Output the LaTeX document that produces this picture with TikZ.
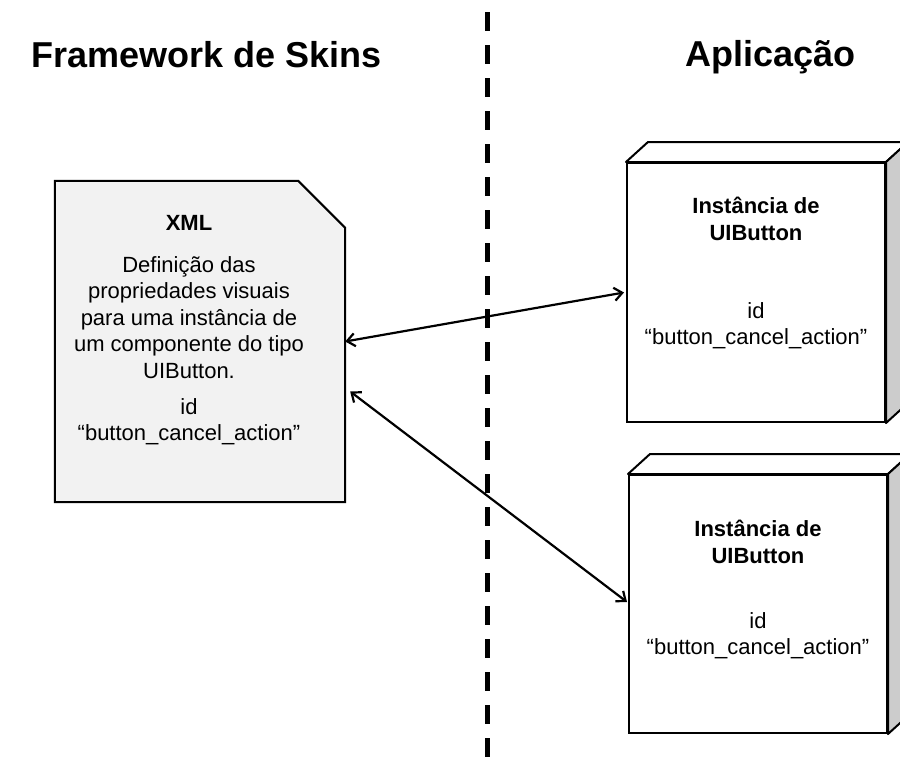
\documentclass[tikz,border=0pt]{standalone}
\usepackage{fontspec}
\setmainfont{Liberation Sans}
\usetikzlibrary{arrows.meta,calc}
\definecolor{docgray}{HTML}{F2F2F2}
\definecolor{sidegray}{HTML}{CCCCCC}
\tikzset{
  heading/.style={anchor=base,font=\fontsize{36}{43}\selectfont\bfseries},
  bodytext/.style={align=center,inner sep=0pt,anchor=north,font=\fontsize{22}{26.5}\selectfont},
  facebox/.style={draw,line width=2pt,fill=white,minimum width=258pt,inner sep=0pt},
  link/.style={line width=2.2pt,{Straight Barb[length=8pt,width=13pt]}-{Straight Barb[length=8pt,width=13pt]}}
}

\begin{document}
\begin{tikzpicture}[x=1pt,y=-1pt]
  \useasboundingbox (0,0) rectangle (900,763);
  % the two sides
  \node[heading] (T-1) at (206.5,67) {Framework de Skins};
  \node[heading] (T-2) at (770.5,66) {Aplicação};
  \draw[line width=5pt,dash pattern=on 19pt off 14pt] (487,12) -- (487,763);

  % XML document with folded corner
  \node[minimum width=290pt,minimum height=321pt,inner sep=0pt] (xml) at (200,341.5) {};
  \draw[line width=2pt,fill=docgray,line join=miter]
    (xml.north west) -- ([xshift=-47pt]xml.north east) -- ([yshift=-47pt]xml.north east)
    -- (xml.south east) -- (xml.south west) -- cycle;
  \node[bodytext] (xml-txt) at (189,215) {\textbf{XML}\\[15.5pt]
    Definição das\\ propriedades visuais\\ para uma instância de\\
    um componente do tipo\\ UIButton.\\[9.5pt]
    id\\ “button\_cancel\_action”};

  % the two instances as cubes
  \foreach \number/\cx/\cy/\h/\ty/\gap in {1/756/292.5/259/197/51.5, 2/758/604/258/520/38.5}{
    \node[facebox,minimum height=\h pt] (I-\number) at (\cx,\cy) {};
    \draw[line width=2pt,fill=white,line join=round]
      (I-\number.north west) -- ++(22,-20) -- ($(I-\number.north east)+(22,-20)$)
      -- (I-\number.north east) -- cycle;
    \draw[line width=2pt,fill=sidegray,line join=round]
      (I-\number.north east) -- ++(22,-20) -- ($(I-\number.south east)+(22,-20)$)
      -- (I-\number.south east) -- cycle;
    \node[bodytext] (I-\number-txt) at (\cx,\ty) {\textbf{Instância de}\\ \textbf{UIButton}\\[\gap pt]
      id\\ “button\_cancel\_action”};
  }

  % links
  \draw[link] (xml.east) -- ([xshift=-2pt]I-1.west);
  \draw[link] ([shift={(5,50)}]xml.east) -- ([shift={(-1,-2)}]I-2.west);
\end{tikzpicture}
\end{document}
